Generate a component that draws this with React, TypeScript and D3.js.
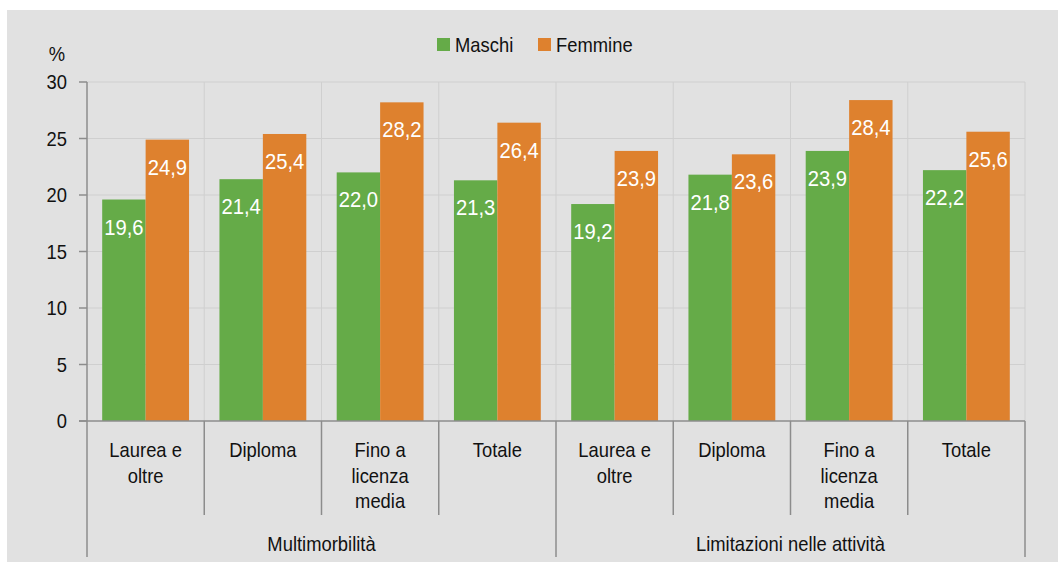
import { scaleBand, scaleLinear } from 'd3'

const WIDTH = 1058
const HEIGHT = 562
const FONT = '"Liberation Sans", Arial, sans-serif'

const GREEN = '#65ab48'
const ORANGE = '#de812e'
const BG = '#e1e1e1'
const GRID = '#cfcfcf'
const AXIS = '#8c8c8c'

const groups = ['Multimorbilità', 'Limitazioni nelle attività']
const levels = [['Laurea e', 'oltre'], ['Diploma'], ['Fino a', 'licenza', 'media'], ['Totale']]
const series = ['Maschi', 'Femmine']
const maschi = [19.6, 21.4, 22.0, 21.3, 19.2, 21.8, 23.9, 22.2]
const femmine = [24.9, 25.4, 28.2, 26.4, 23.9, 23.6, 28.4, 25.6]
const yTicks = [0, 5, 10, 15, 20, 25, 30]

const LEFT = 87
const RIGHT = 1025
const TOP = 82
const BOTTOM = 421

const fmt = (v: number) => v.toFixed(1).replace('.', ',')

// the source font is a bit narrower than Liberation Sans, so squeeze it horizontally
const narrow = (x: number, y: number) => `translate(${x},${y}) scale(0.92,1)`

export default function App() {
  const cats = groups.flatMap((g, gi) => levels.map((_, li) => `${gi}-${li}`))
  const x0 = scaleBand<string>().domain(cats).range([LEFT, RIGHT]).paddingInner(0).paddingOuter(0)
  const x1 = scaleBand<string>().domain(series).range([0, x0.bandwidth()]).paddingInner(0).paddingOuter(0.35)
  const y = scaleLinear().domain([0, 30]).range([BOTTOM, TOP])
  const colors = [GREEN, ORANGE]
  const values = [maschi, femmine]
  const groupWidth = (RIGHT - LEFT) / groups.length

  return (
    <svg
      width={WIDTH}
      height={HEIGHT}
      style={{ position: 'fixed', left: 0, top: 0, fontFamily: FONT }}
    >
      <rect x={0} y={0} width={WIDTH} height={HEIGHT} fill="#fff" />
      <rect x={7} y={10} width={WIDTH - 7} height={HEIGHT - 10} fill={BG} />

      {/* grid */}
      {yTicks.filter((t) => t > 0).map((t) => (
        <line key={t} x1={LEFT} x2={RIGHT} y1={y(t)} y2={y(t)} stroke={GRID} strokeWidth={1} />
      ))}
      {cats.slice(1).map((c) => (
        <line key={c} x1={x0(c)} x2={x0(c)} y1={TOP} y2={BOTTOM} stroke={GRID} strokeWidth={1} />
      ))}
      <line x1={RIGHT} x2={RIGHT} y1={TOP} y2={BOTTOM} stroke={GRID} strokeWidth={1} />

      {/* bars */}
      {cats.map((c, i) => (
        <g key={c} transform={`translate(${x0(c)},0)`}>
          {series.map((s, si) => {
            const v = values[si][i]
            const bx = x1(s) ?? 0
            return (
              <g key={s}>
                <rect x={bx} y={y(v)} width={x1.bandwidth()} height={y(0) - y(v)} fill={colors[si]} />
                <text
                  transform={narrow(bx + x1.bandwidth() / 2, y(v) + 35)}
                  textAnchor="middle"
                  fill="#fff"
                  fontSize={22}
                >
                  {fmt(v)}
                </text>
              </g>
            )
          })}
        </g>
      ))}

      {/* y axis */}
      <line x1={LEFT} x2={LEFT} y1={TOP} y2={BOTTOM} stroke={AXIS} strokeWidth={1.5} />
      {yTicks.map((t) => (
        <g key={t}>
          <line x1={LEFT - 8} x2={LEFT} y1={y(t)} y2={y(t)} stroke={AXIS} strokeWidth={1.5} />
          <text transform={narrow(LEFT - 20, y(t) + 7)} textAnchor="end" fontSize={20} fill="#111">
            {t}
          </text>
        </g>
      ))}
      <text transform={narrow(57, 61)} textAnchor="middle" fontSize={20} fill="#111">%</text>

      {/* x axis */}
      <line x1={LEFT - 8} x2={RIGHT} y1={BOTTOM} y2={BOTTOM} stroke={AXIS} strokeWidth={1.5} />
      {cats.map((c, i) => {
        const lines = levels[i % levels.length]
        const cx = (x0(c) ?? 0) + x0.bandwidth() / 2
        return (
          <g key={c}>
            {lines.map((l, li) => (
              <text
                key={li}
                transform={narrow(cx, 457 + li * 25.5)}
                textAnchor="middle"
                fontSize={20}
                fill="#111"
              >
                {l}
              </text>
            ))}
          </g>
        )
      })}
      {cats.map((c, i) => {
        const outer = i % levels.length === 0
        return (
          <line
            key={c}
            x1={x0(c)}
            x2={x0(c)}
            y1={BOTTOM}
            y2={outer ? 557 : 515}
            stroke={AXIS}
            strokeWidth={1.5}
          />
        )
      })}
      <line x1={RIGHT} x2={RIGHT} y1={BOTTOM} y2={557} stroke={AXIS} strokeWidth={1.5} />
      {groups.map((g, gi) => (
        <text
          key={g}
          transform={narrow(LEFT + groupWidth * gi + groupWidth / 2, 551)}
          textAnchor="middle"
          fontSize={20}
          fill="#111"
        >
          {g}
        </text>
      ))}

      {/* legend */}
      {series.map((s, si) => {
        const lx = si === 0 ? 437 : 538
        return (
          <g key={s}>
            <rect x={lx} y={38} width={13} height={13} fill={colors[si]} />
            <text transform={narrow(lx + 18, 52)} fontSize={20} fill="#111">
              {s}
            </text>
          </g>
        )
      })}
    </svg>
  )
}
